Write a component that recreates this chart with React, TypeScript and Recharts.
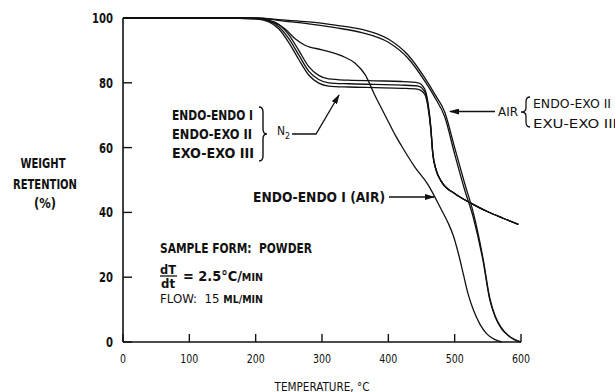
import React from 'react';
import { LineChart, Line, XAxis, YAxis } from 'recharts';

// temperature (°C) / weight retention (%) readings
const n2Temp = [0, 150, 200, 220, 235, 250, 265, 280, 295, 310, 340, 380, 420, 445, 455, 460, 464, 467, 472, 480, 500, 525, 550, 573, 596];
const n2EndoEndo = [100, 100, 99.8, 99.3, 98.0, 94.8, 90.0, 85.0, 82.3, 81.2, 80.8, 80.6, 80.4, 80.0, 78.0, 73.5, 66.5, 58.5, 53.2, 49.6, 45.8, 42.8, 40.2, 38.2, 36.3];
const n2EndoExo = [100, 100, 99.8, 99.1, 97.3, 93.6, 88.6, 83.6, 81.0, 80.0, 79.7, 79.5, 79.3, 79.0, 77.2, 72.8, 66.0, 58.2, 53.1, 49.5, 45.8, 42.8, 40.2, 38.2, 36.3];
const n2ExoExo = [100, 100, 99.7, 98.8, 96.6, 92.4, 87.2, 82.4, 79.9, 79.0, 78.7, 78.5, 78.3, 78.0, 76.4, 72.2, 65.6, 58.0, 53.0, 49.5, 45.8, 42.8, 40.2, 38.2, 36.3];

const airTemp = [0, 200, 240, 280, 320, 360, 400, 430, 455, 470, 485, 500, 515, 528, 543, 553, 561, 570, 580, 590, 600];
const airEndoExo = [100, 100, 99.4, 98.8, 97.8, 96.5, 93.5, 88.5, 81.5, 76.5, 71.0, 60.0, 49.0, 40.0, 25.5, 13.5, 8.0, 4.5, 2.2, 0.8, 0];
const airExoExo = [100, 100, 99.1, 98.2, 97.0, 95.5, 92.5, 87.5, 80.5, 75.5, 69.5, 58.0, 47.0, 38.5, 24.8, 13.0, 7.8, 4.3, 2.1, 0.7, 0];

const airEndoEndoTemp = [0, 180, 210, 230, 245, 260, 275, 300, 330, 350, 365, 380, 390, 400, 410, 420, 440, 460, 480, 490, 498, 506, 513, 520, 528, 538, 548, 560, 571];
const airEndoEndo = [100, 100, 99.6, 98.5, 96.5, 93.5, 91.5, 90.2, 88.3, 86.0, 82.5, 76.0, 72.0, 68.0, 64.0, 60.5, 54.0, 48.5, 40.8, 36.8, 32.8, 27.0, 21.0, 15.0, 10.0, 5.5, 2.6, 0.8, 0];

const xTicks = [0, 100, 200, 300, 400, 500, 600];
const yTicks = [0, 20, 40, 60, 80, 100];

const zip = (t: number[], w: number[]) => t.map((temp, i) => ({ temp, w: w[i] }));

const FONT = "'Liberation Sans Narrow', 'DejaVu Sans Condensed', 'Arial Narrow', sans-serif";
const INK = '#111';

// squeezed lettering: text is fitted to a given width
function T({ x, y, w, size = 13.5, b = true, anchor = 'start', children }: any) {
  return (
    <text
      x={x}
      y={y}
      dy="0.36em"
      textAnchor={anchor}
      fontFamily={FONT}
      fontWeight={b ? 'bold' : 'normal'}
      fontSize={size}
      fill={INK}
      textLength={w}
      lengthAdjust="spacingAndGlyphs"
    >
      {children}
    </text>
  );
}

const YTick = (props: any) => {
  const { x, y, payload } = props;
  // tickSize is 0 and tickMargin 10, so the axis line sits at x + 10
  const ax = x + 10;
  const s = String(payload.value);
  return (
    <g>
      <line x1={ax} x2={ax + 9} y1={y} y2={y} stroke={INK} strokeWidth={1.4} />
      <T x={x} y={y} w={s.length * 7} size={14} anchor="end">{s}</T>
    </g>
  );
};

const XTick = (props: any) => {
  const { x, y, payload } = props;
  // tickMargin 6 below the axis line
  const ay = y - 6;
  const s = String(payload.value);
  return (
    <g>
      <line x1={x} x2={x} y1={ay} y2={ay - 8} stroke={INK} strokeWidth={1.4} />
      <T x={x} y={ay + 16} w={s.length * 6} size={13} b={false} anchor="middle">{s}</T>
    </g>
  );
};

function Notes() {
  return (
    <svg width={615} height={392} style={{ position: 'absolute', left: 0, top: 0, pointerEvents: 'none' }}>
      <defs>
        <marker id="head" markerWidth="10" markerHeight="6" refX="9" refY="3" orient="auto" markerUnits="userSpaceOnUse">
          <path d="M0,0 L10,3 L0,6 Z" fill={INK} />
        </marker>
      </defs>

      {/* N2 group */}
      <T x={172} y={115} w={81}>ENDO-ENDO I</T>
      <T x={172} y={134} w={80}>ENDO-EXO II</T>
      <T x={172} y={153} w={82}>EXO-EXO III</T>
      <path d="M259,107 Q263,107 263,112 L263,129 Q263,134 267,134 Q263,134 263,139 L263,156 Q263,161 259,161" fill="none" stroke={INK} strokeWidth={1.4} />
      <T x={277} y={131} w={8} size={12} b={false}>N</T>
      <T x={285} y={136} w={5} size={9} b={false}>2</T>
      <polyline points="292,134 316,134 339,95" fill="none" stroke={INK} strokeWidth={1.3} markerEnd="url(#head)" />

      {/* air curves */}
      <line x1={495} y1={111.5} x2={450} y2={111.5} stroke={INK} strokeWidth={1.3} markerEnd="url(#head)" />
      <T x={498} y={112} w={20} size={12} b={false}>AIR</T>
      <path d="M530,97 Q526,97 526,102 L526,108 Q526,112 521,112 Q526,112 526,116 L526,122 Q526,127 530,127" fill="none" stroke={INK} strokeWidth={1.3} />
      <T x={533} y={103} w={78} size={13} b={false}>ENDO-EXO II</T>
      <T x={533} y={123} w={84} size={13} b={false}>EXU-EXO III</T>

      <T x={253} y={197} w={132}>ENDO-ENDO I (AIR)</T>
      <line x1={389} y1={197} x2={434} y2={197} stroke={INK} strokeWidth={1.3} markerEnd="url(#head)" />

      {/* run conditions */}
      <T x={160} y={248} w={152}>SAMPLE FORM:{'\u00a0\u00a0'}POWDER</T>
      <T x={160} y={269} w={16} size={12.5}>dT</T>
      <line x1={160} x2={177} y1={276} y2={276} stroke={INK} strokeWidth={1.3} />
      <T x={161} y={283} w={14} size={12.5}>dt</T>
      <T x={183} y={276} w={80}>= 2.5°C/<tspan fontSize={10}>MIN</tspan></T>
      <T x={160} y={298} w={103} size={12.5} b={false}>FLOW:{'\u00a0\u00a0'}15 <tspan fontWeight="bold" fontSize={10}>ML/MIN</tspan></T>

      {/* axis titles */}
      <T x={322} y={386} w={95} size={12.5} b={false} anchor="middle">TEMPERATURE, °C</T>
      <T x={43} y={163} w={45} anchor="middle">WEIGHT</T>
      <T x={45} y={184} w={64} anchor="middle">RETENTION</T>
      <T x={45} y={203} w={22} anchor="middle">(%)</T>
    </svg>
  );
}

export default function App() {
  const curves = [
    zip(n2Temp, n2EndoEndo),
    zip(n2Temp, n2EndoExo),
    zip(n2Temp, n2ExoExo),
    zip(airTemp, airEndoExo),
    zip(airTemp, airExoExo),
    zip(airEndoEndoTemp, airEndoEndo),
  ];

  return (
    <div style={{ position: 'fixed', left: 0, top: 0, width: 615, height: 392, background: '#fff' }}>
      <LineChart width={615} height={392} margin={{ top: 18, right: 94, bottom: 10, left: 63 }}>
        <XAxis
          dataKey="temp"
          type="number"
          domain={[0, 600]}
          ticks={xTicks}
          height={40}
          tickSize={0}
          tickMargin={6}
          tick={<XTick />}
          axisLine={{ stroke: INK, strokeWidth: 1.6 }}
          allowDuplicatedCategory={false}
        />
        <YAxis
          type="number"
          domain={[0, 100]}
          ticks={yTicks}
          width={60}
          tickSize={0}
          tickMargin={10}
          tick={<YTick />}
          axisLine={{ stroke: INK, strokeWidth: 1.6 }}
        />
        {curves.map((d, i) => (
          <Line
            key={i}
            data={d}
            dataKey="w"
            type="monotone"
            stroke={INK}
            strokeWidth={1.3}
            dot={false}
            activeDot={false}
            isAnimationActive={false}
          />
        ))}
      </LineChart>
      <Notes />
    </div>
  );
}
